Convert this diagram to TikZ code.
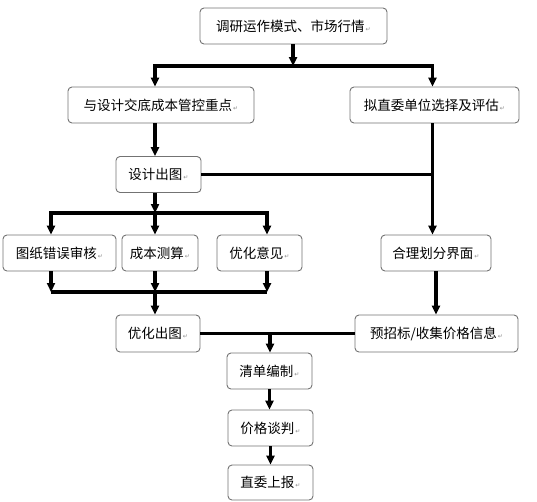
\documentclass[tikz,border=0pt]{standalone}
\usepackage{fontspec}
\usetikzlibrary{arrows.meta}
\newfontfamily\cjk{Noto Sans CJK SC}
\newfontfamily\symfont{DejaVu Sans}
\definecolor{boxborder}{rgb}{0.45,0.45,0.45}
\definecolor{retmarkgray}{rgb}{0.55,0.55,0.55}
\newcommand{\retmark}{{\symfont\fontsize{6}{6}\selectfont\color{retmarkgray}\,↵}}
\tikzset{
  stepbox/.style={draw=boxborder,line width=0.9pt,rounded corners=4pt,fill=white,
    minimum height=36pt,inner sep=0pt,font=\cjk\fontsize{13.5}{15}\selectfont},
  flowline/.style={line width=3.5pt,line join=miter},
  flowarrow/.style={flowline,-{Triangle[length=9pt,width=8pt]}}
}
\begin{document}
\begin{tikzpicture}[x=1pt,y=-1pt]
\useasboundingbox (0,0) rectangle (537,501);
\node[stepbox,minimum width=187pt] (research) at (293.5,26) {调研运作模式、市场行情\retmark};
\node[stepbox,minimum width=186pt] (brief) at (161,105) {与设计交底成本管控重点\retmark};
\node[stepbox,minimum width=169pt] (select) at (434.5,105) {拟直委单位选择及评估\retmark};
\node[stepbox,minimum width=85pt] (drawing) at (158.5,174.5) {设计出图\retmark};
\node[stepbox,minimum width=113pt] (check) at (59.5,253) {图纸错误审核\retmark};
\node[stepbox,minimum width=76pt] (cost) at (160,253) {成本测算\retmark};
\node[stepbox,minimum width=85pt] (optim) at (259.5,253) {优化意见\retmark};
\node[stepbox,minimum width=110pt] (divide) at (436,253) {合理划分界面\retmark};
\node[stepbox,minimum width=84pt,minimum height=37pt] (redraw) at (158,333.5) {优化出图\retmark};
\node[stepbox,minimum width=163pt,minimum height=37pt] (pretender) at (436.5,333.5) {预招标/收集价格信息\retmark};
\node[stepbox,minimum width=85pt] (bill) at (269.5,371) {清单编制\retmark};
\node[stepbox,minimum width=85pt] (nego) at (270.5,428) {价格谈判\retmark};
\node[stepbox,minimum width=85pt,minimum height=35pt] (report) at (270.5,482.5) {直委上报\retmark};
\coordinate (j1) at (293,66);
\coordinate (j1l) at (155,66);
\coordinate (j1r) at (432.5,66);
\coordinate (j2) at (155,213);
\coordinate (j2l) at (51,213);
\coordinate (j2r) at (267,213);
\coordinate (j3) at (155,292);
\coordinate (j3l) at (51,292);
\coordinate (j3r) at (267,292);
\coordinate (j4) at (270,333.5);
\draw[flowarrow] (research.south -| j1) -- (j1);
\draw[flowarrow] (j1) -| (brief.north -| j1l);
\draw[flowarrow] (j1) -| (select.north -| j1r);
\draw[flowarrow] (brief.south -| j1l) -- (drawing.north -| j1l);
\draw[flowarrow] (select.south -| j1r) -- (divide.north -| j1r);
\draw[flowline] (drawing.east) -- (drawing.east -| j1r);
\draw[flowarrow] (drawing.south -| j2) -- (j2);
\draw[flowarrow] (j2) -| (check.north -| j2l);
\draw[flowarrow] (j2) -| (optim.north -| j2r);
\draw[flowarrow] (j2) -- (cost.north -| j2);
\draw[flowarrow] (check.south -| j3l) -- (j3l);
\draw[flowarrow] (cost.south -| j3) -- (j3);
\draw[flowarrow] (optim.south -| j3r) -- (j3r);
\draw[flowline] (j3l) -- (j3r);
\draw[flowarrow] (j3) -- (redraw.north -| j3);
\draw[flowarrow] (divide.south) -- (divide.south |- pretender.north);
\draw[flowline] (redraw.east) -- (pretender.west);
\draw[flowarrow] (j4) -- (bill.north -| j4);
\draw[flowarrow] (bill.south) -- (bill.south |- nego.north);
\draw[flowarrow] (nego.south) -- (nego.south |- report.north);
\end{tikzpicture}
\end{document}
